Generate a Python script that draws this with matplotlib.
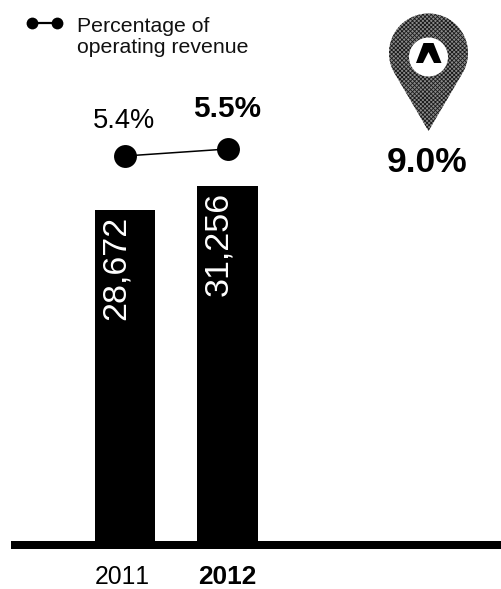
"""Bars with percentage line, map pin callout."""
import matplotlib
matplotlib.use('Agg')
import matplotlib.pyplot as plt
import numpy as np
from matplotlib.patches import Circle, Polygon
from matplotlib.transforms import ScaledTranslation

plt.rcParams['font.family'] = ['Liberation Sans', 'DejaVu Sans']
plt.rcParams['text.kerning_factor'] = 6
plt.rcParams['hatch.linewidth'] = 0.6

W, H = 502, 589
YEARS = ["2011", "2012"]
BAR_LABELS = ["28,672", "31,256"]
# heights as drawn in the picture, the 2011 bar is a bit taller than its label
BAR_HEIGHTS = [29170, 31256]
RATES = [5.4, 5.5]
RATE_LABELS = ["5.4%", "5.5%"]
PIN_LABEL = "9.0%"
LEGEND_TEXT = "Percentage of\noperating revenue"

BLACK = "#000000"

fig = plt.figure(figsize=(W / 100, H / 100), dpi=100)
base_y = 545
left = 11
ax = fig.add_axes([left / W, (H - base_y) / H, (W - left) / W, base_y / H])

x = [0, 1]
step = 102.5
ax.set_xlim(-(125 - left) / step, (W - 125) / step)
ax.set_ylim(0, 31256 * base_y / 359)
ax.bar(x, BAR_HEIGHTS, width=0.59, color=BLACK, linewidth=0)
for s in ["top", "left", "right"]:
    ax.spines[s].set_visible(False)
ax.spines["bottom"].set_linewidth(8 * 0.72)
ax.spines["bottom"].set_color(BLACK)
ax.spines["bottom"].set_capstyle("butt")
ax.set_yticks([])
ax.set_xticks(x)
ax.set_xticklabels(YEARS)
ax.tick_params(axis="x", length=0, pad=14.5)
for lab, size, weight, dx in zip(ax.get_xticklabels(), [17.8, 18.9], ["normal", "bold"], [-2.5, 0]):
    lab.set_fontsize(size)
    lab.set_fontweight(weight)
    lab.set_color(BLACK)
    lab.set_transform(lab.get_transform() + ScaledTranslation(dx / 100, 0, fig.dpi_scale_trans))
for xi, h, lab in zip(x, BAR_HEIGHTS, BAR_LABELS):
    ax.text(xi - 0.085, h - 31256 * 6 / 359, lab, rotation=90, ha="center", va="top",
            color="white", fontsize=24.5)

# percentage line on its own scale
rate_ax = ax.twinx()
for s in rate_ax.spines.values():
    s.set_visible(False)
rate_ax.set_yticks([])
px_per_pct = 70
rate_ax.set_ylim(5.4 - (base_y - 156) / px_per_pct, 5.4 + 156 / px_per_pct)
rate_ax.plot(x, RATES, color=BLACK, lw=1.1, marker="o", ms=16.5, mew=0)
rate_ax.annotate(RATE_LABELS[0], (x[0], RATES[0]), xytext=(-1, 16), textcoords="offset points",
                 ha="center", va="bottom", fontsize=19.6)
rate_ax.annotate(RATE_LABELS[1], (x[1], RATES[1]), xytext=(0, 19), textcoords="offset points",
                 ha="center", va="bottom", fontsize=21.4, fontweight="bold")

# overlay in pixels for legend and pin
ov = fig.add_axes([0, 0, 1, 1])
ov.set_xlim(0, W)
ov.set_ylim(H, 0)
ov.axis("off")
ov.patch.set_alpha(0)

ov.plot([32, 57], [23, 23], color=BLACK, lw=1.6, marker="o", ms=8.5, mew=0)
ov.text(77, 32, LEGEND_TEXT.split("\n")[0], fontsize=15.3, va="baseline", color="#111111")
ov.text(77, 53, LEGEND_TEXT.split("\n")[1], fontsize=15.3, va="baseline", color="#111111")

# pin: circle arc plus straight sides down to the tip
cx, cy, r = 428.5, 53, 39.5
tip_y = 131
a = np.arccos(r / (tip_y - cy))
t = np.linspace(np.pi / 2 + a, 2.5 * np.pi - a, 80)
pin = [(cx, tip_y)] + list(zip(cx + r * np.cos(t), cy + r * np.sin(t)))
ov.add_patch(Polygon(pin, closed=True, facecolor="#8a8a8a", edgecolor="#1a1a1a", lw=0, hatch="xxxxxxxx"))
ov.add_patch(Circle((cx, 57), 19.5, facecolor="white", edgecolor="none"))
caret = [(416, 63), (423.5, 43), (433.5, 43), (441.5, 63), (434, 63), (428.5, 52), (423, 63)]
ov.add_patch(Polygon(caret, closed=True, facecolor=BLACK, edgecolor="none"))
ov.text(427, 163, PIN_LABEL, ha="center", va="center", fontsize=25.5, fontweight="bold")

fig.savefig("out.png", dpi=100)
